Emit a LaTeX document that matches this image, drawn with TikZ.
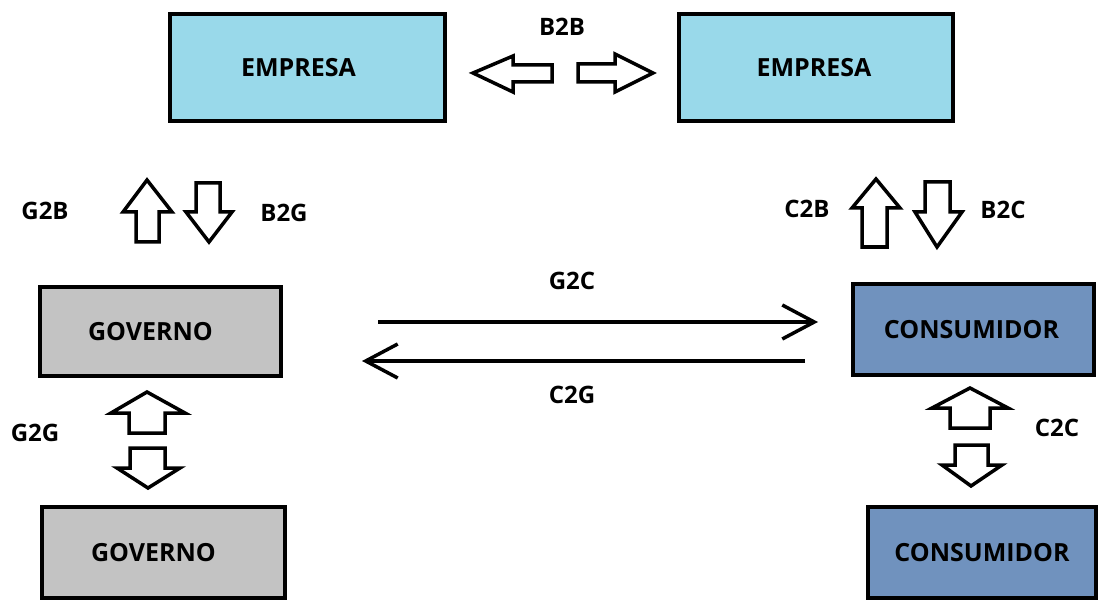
\documentclass[tikz,border=0pt]{standalone}
\usepackage{fontspec}
\setmainfont{Open Sans}
\usetikzlibrary{arrows.meta}
\definecolor{empcol}{HTML}{99D9EA}
\definecolor{govcol}{HTML}{C3C3C3}
\definecolor{concol}{HTML}{7092BE}
\tikzset{
  box/.style={draw=black, line width=4pt, minimum width=#1, inner sep=0pt, font=\fontsize{25}{30}\selectfont\bfseries, text=black},
  lbl/.style={font=\fontsize{24}{28}\selectfont\bfseries, text=black, inner sep=0pt},
  blockarrow/.style={draw=black, fill=white, line width=3.5pt, line join=miter},
  flow/.style={line width=3.5pt, -{Straight Barb[length=32pt, width=34pt, line width=3.5pt]}}
}
\begin{document}
\begin{tikzpicture}[x=1pt,y=-1pt]
\useasboundingbox (0,0) rectangle (1103,604);
% boxes
\node[box=275pt, minimum height=107pt, fill=empcol] (e1) at (307.5,67.5) {EMPRESA\hspace*{18pt}};
\node[box=274pt, minimum height=107pt, fill=empcol] (e2) at (816,67.5) {EMPRESA\hspace*{4pt}};
\node[box=241pt, minimum height=89pt, fill=govcol] (g1) at (160.5,331.5) {GOVERNO\hspace*{20pt}};
\node[box=241pt, minimum height=91pt, fill=concol] (c1) at (973.5,329.5) {CONSUMIDOR\hspace*{4pt}};
\node[box=243pt, minimum height=91pt, fill=govcol] (g2) at (163.5,552.5) {GOVERNO\hspace*{20pt}};
\node[box=228pt, minimum height=91pt, fill=concol] (c2) at (982,552.5) {CONSUMIDOR};
% labels
\node[lbl] (lb2b) at (562,27) {B2B};
\node[lbl] (lg2b) at (45,211) {G2B};
\node[lbl] (lb2g) at (284,213) {B2G};
\node[lbl] (lc2b) at (807,209) {C2B};
\node[lbl] (lb2c) at (1003,210) {B2C};
\node[lbl] (lg2c) at (572,281) {G2C};
\node[lbl] (lc2g) at (572,395) {C2G};
\node[lbl] (lg2g) at (35,433) {G2G};
\node[lbl] (lc2c) at (1057,428) {C2C};
% B2B block arrows
\draw[blockarrow] (473,73) -- (513,56) -- (513,65) -- (552,65) -- (552,82) -- (513,82) -- (513,92) -- cycle;
\draw[blockarrow] (653,73) -- (615,54) -- (615,64) -- (578,64) -- (578,82) -- (615,82) -- (615,92) -- cycle;
% G2B / B2G
\draw[blockarrow] (147,180) -- (172,212) -- (159,212) -- (159,242) -- (136,242) -- (136,212) -- (123,212) -- cycle;
\draw[blockarrow] (209,242) -- (232,212) -- (220,212) -- (220,183) -- (196,183) -- (196,212) -- (186,212) -- cycle;
% C2B / B2C
\draw[blockarrow] (876,179) -- (900,208) -- (887,208) -- (887,247) -- (862,247) -- (862,208) -- (852,208) -- cycle;
\draw[blockarrow] (937,247) -- (962,212) -- (950,212) -- (950,182) -- (925,182) -- (925,212) -- (915,212) -- cycle;
% G2G
\draw[blockarrow] (147,392) -- (185,413) -- (165,413) -- (165,433) -- (129,433) -- (129,413) -- (111,413) -- cycle;
\draw[blockarrow] (148,488) -- (180,468) -- (165,468) -- (165,448) -- (130,448) -- (130,468) -- (117,468) -- cycle;
% C2C
\draw[blockarrow] (970,388) -- (1008,408) -- (990,408) -- (990,428) -- (950,428) -- (950,408) -- (932,408) -- cycle;
\draw[blockarrow] (971,486) -- (1002,465) -- (988,465) -- (988,445) -- (955,445) -- (955,465) -- (942,465) -- cycle;
% G2C / C2G flows
\coordinate (g2cs) at (378,322);
\coordinate (g2ce) at (818,322);
\coordinate (c2gs) at (805,361);
\coordinate (c2ge) at (362,361);
\draw[flow] (g2cs) -- (g2ce);
\draw[flow] (c2gs) -- (c2ge);
\end{tikzpicture}
\end{document}
